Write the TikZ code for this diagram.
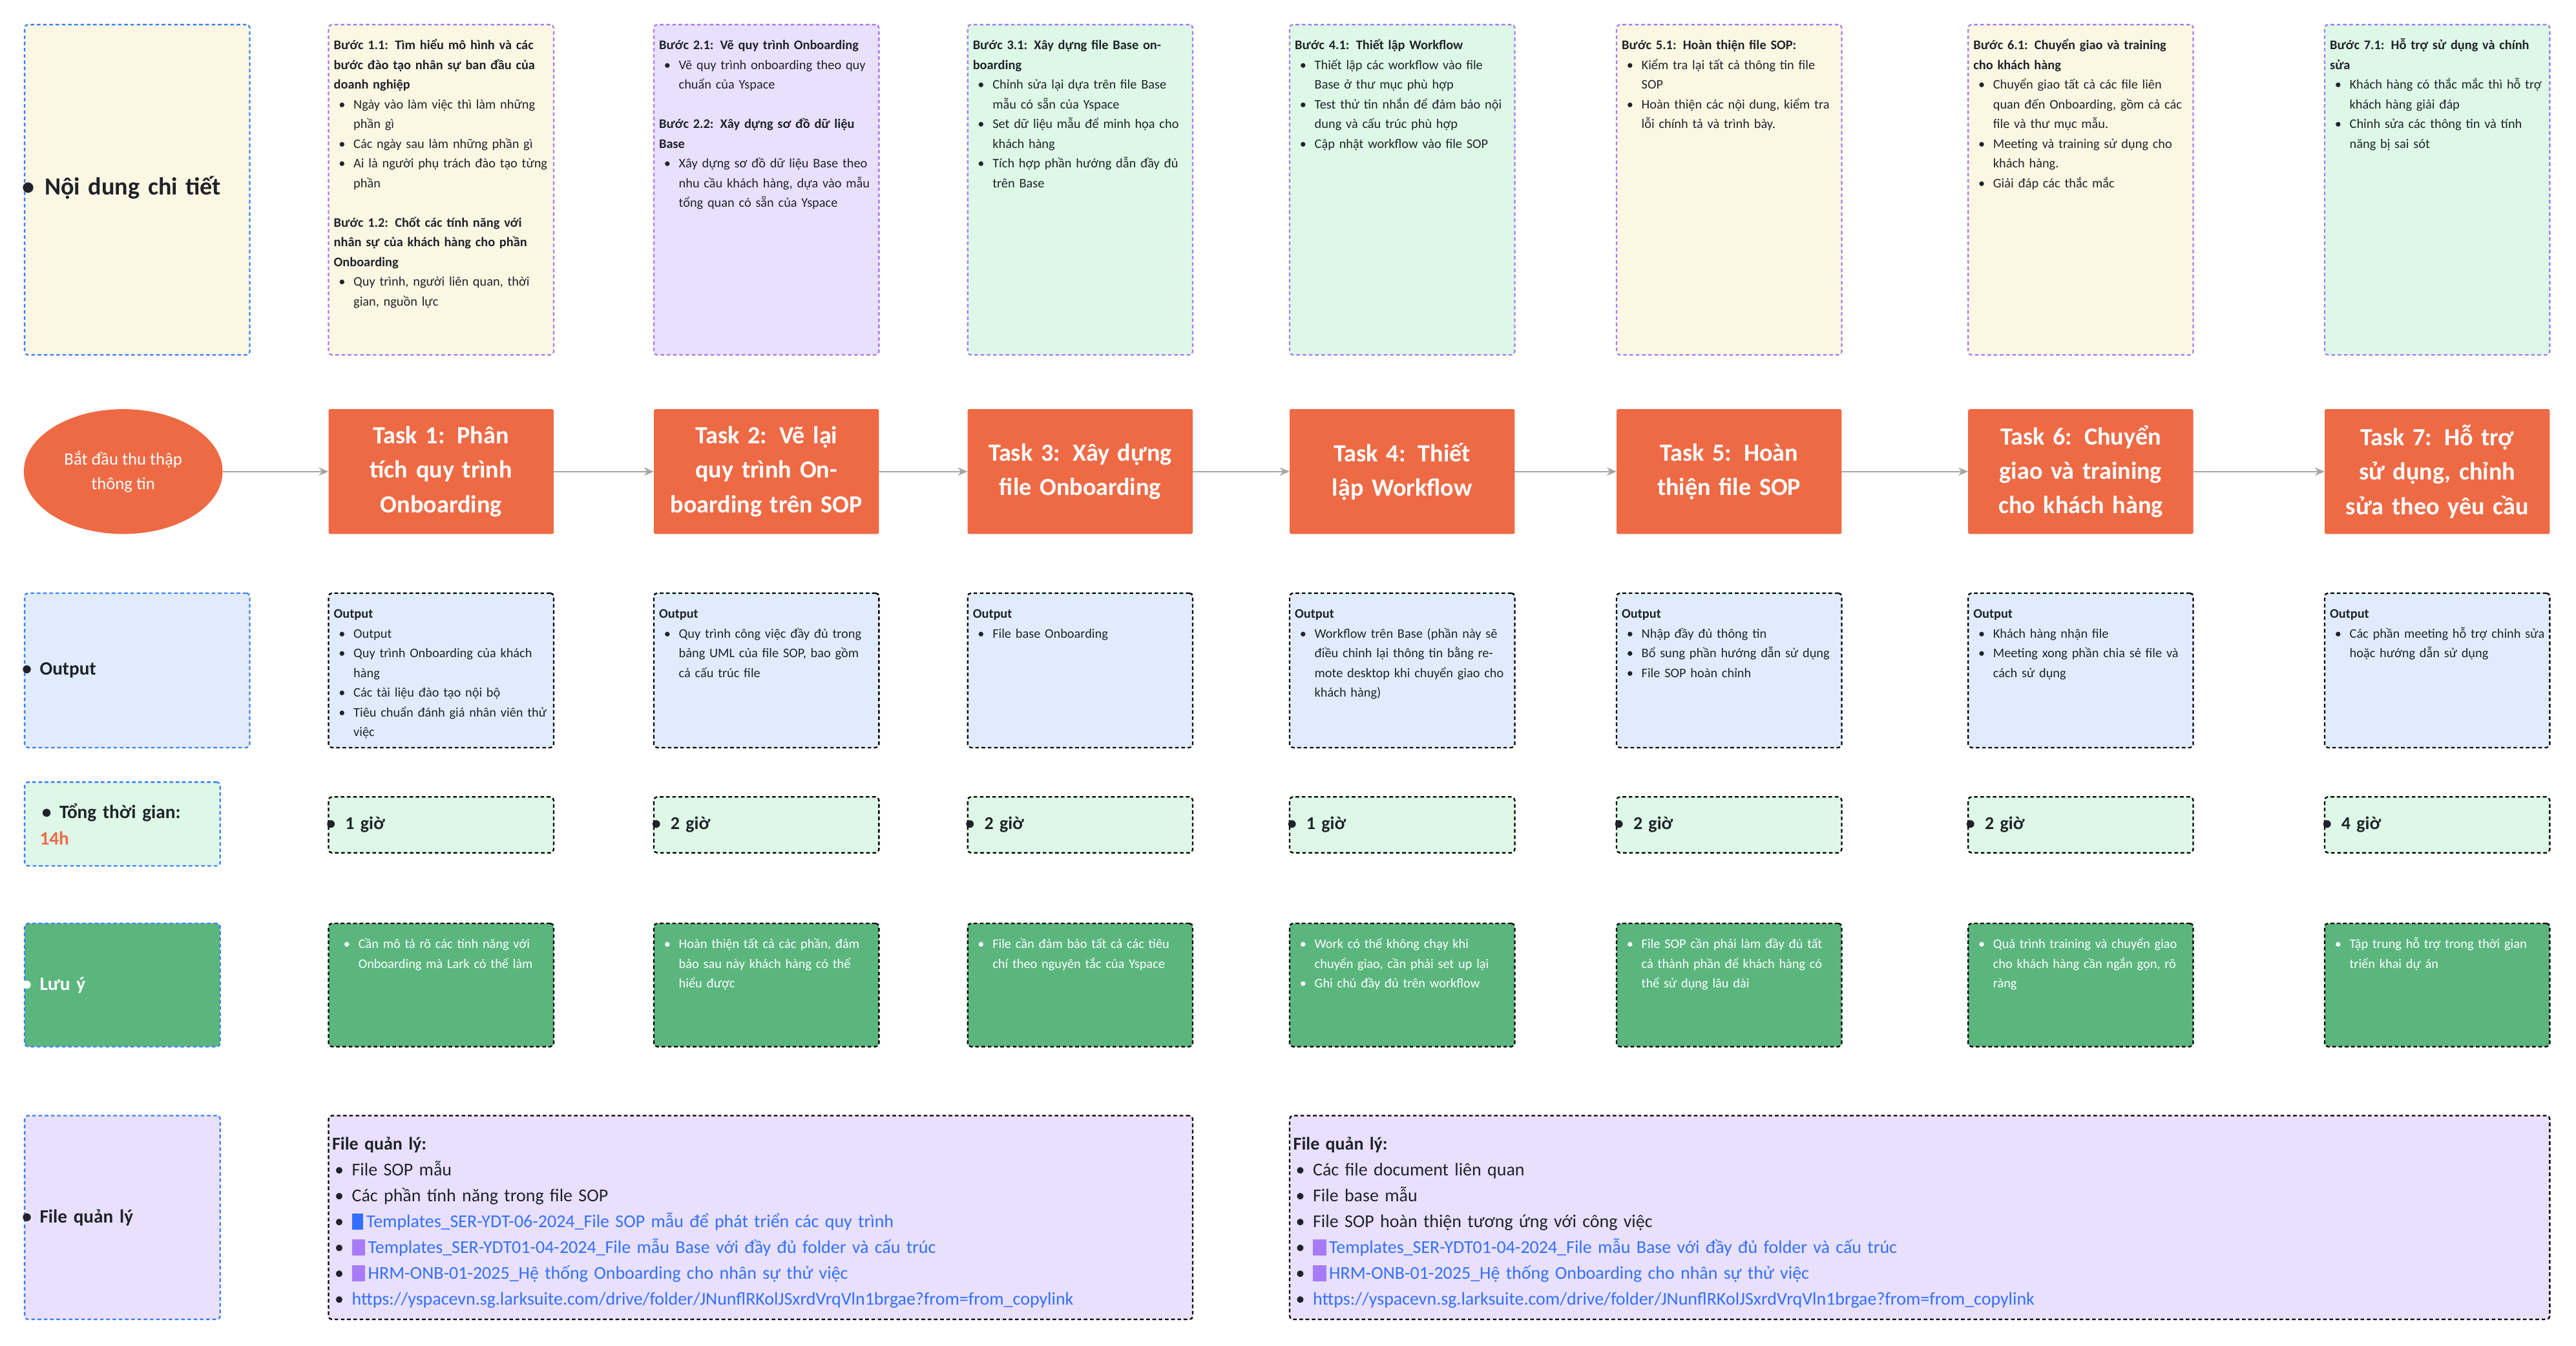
\documentclass[tikz,border=0pt]{standalone}
\usepackage{fontspec}
\setmainfont{Carlito}
\usetikzlibrary{shapes.geometric,arrows.meta}
\definecolor{cyel}{HTML}{FCF7E3}
\definecolor{cpur}{HTML}{E8E0FD}
\definecolor{cmint}{HTML}{DDF8E7}
\definecolor{cblue}{HTML}{E0ECFD}
\definecolor{cgreen}{HTML}{5BB67E}
\definecolor{corange}{HTML}{EE6A45}
\definecolor{bblue}{HTML}{3B82F6}
\definecolor{bpur}{HTML}{A77BF5}
\definecolor{link}{HTML}{3370FF}
\definecolor{ink}{HTML}{1F2329}
\newcommand\bi[1]{\par{\leftskip=12pt\noindent\llap{\textbullet\hspace{5pt}}#1\par}}
\newcommand\hd[1]{\par\noindent\textbf{#1}\par}
\newcommand\picon{\textcolor{bpur}{\rule[-1.5pt]{8pt}{10pt}}\,}
\newcommand\dicon{\textcolor{link}{\rule[-1.5pt]{7pt}{10pt}}\,}
\begin{document}
\begin{tikzpicture}[x=1pt,y=-1pt,
  box/.style={rectangle,inner sep=0pt,outer sep=0pt,rounded corners=2pt,line width=0.9pt,anchor=north west},
  lab/.style={box,draw=bblue,dash pattern=on 2.2pt off 1.6pt},
  top/.style={box,draw=bpur,dash pattern=on 2.2pt off 1.6pt},
  blk/.style={box,draw=black,dash pattern=on 2.2pt off 1.6pt},
  txt/.style={anchor=north west,inner sep=3pt,text width=131pt,align=left,font=\fontsize{8}{12}\selectfont,text=ink},
  big/.style={anchor=west,inner sep=0pt,text width=118pt,align=left,font=\fontsize{11.5}{16}\selectfont\bfseries,text=ink},
  task/.style={box,fill=corange,minimum width=137pt,minimum height=76pt,rounded corners=1pt},
  tasktxt/.style={text=white,font=\fontsize{15}{21}\selectfont\bfseries,align=center,text width=132pt},
  arr/.style={draw=gray!70,line width=0.8pt,-{Stealth[length=6pt,width=5pt]}}]
\useasboundingbox (0,0) rectangle (1568,819);

% ---- column 0 labels
\node[lab,fill=cyel,minimum width=137pt,minimum height=201pt] (l1) at (15,15) {};
\node[big,font=\fontsize{15}{21}\selectfont\bfseries] at (27,115.5) {\hd{}\vspace{-12pt}\leftskip=14pt\noindent\llap{\textbullet\hspace{6pt}}Nội dung chi tiết};
\node[lab,fill=cblue,minimum width=137pt,minimum height=94pt] (l2) at (15,361) {};
\node[big] at (24,408) {\leftskip=12pt\noindent\llap{\textbullet\hspace{5pt}}Output};
\node[lab,fill=cmint,minimum width=119pt,minimum height=51pt] (l3) at (15,476) {};
\node[big] at (24,501.5) {\leftskip=12pt\noindent\llap{\textbullet\hspace{5pt}}Tổng thời gian:\\\textcolor{corange}{14h}};
\node[lab,fill=cgreen,minimum width=119pt,minimum height=75pt] (l4) at (15,562) {};
\node[big,text=white] at (24,599.5) {\leftskip=12pt\noindent\llap{\textbullet\hspace{5pt}}Lưu ý};
\node[lab,fill=cpur,minimum width=119pt,minimum height=124pt] (l5) at (15,679) {};
\node[big] at (24,741) {\leftskip=12pt\noindent\llap{\textbullet\hspace{5pt}}File quản lý};

% ---- top detail boxes
\node[top,fill=cyel,minimum width=137pt,minimum height=201pt] (d1) at (200,15) {};
\node[txt] at (d1.north west) {\hd{Bước 1.1: Tìm hiểu mô hình và các bước đào tạo nhân sự ban đầu của doanh nghiệp}
\bi{Ngày vào làm việc thì làm những phần gì}\bi{Các ngày sau làm những phần gì}\bi{Ai là người phụ trách đào tạo từng phần}\vspace{12pt}
\hd{Bước 1.2: Chốt các tính năng với nhân sự của khách hàng cho phần Onboarding}\bi{Quy trình, người liên quan, thời gian, nguồn lực}};
\node[top,fill=cpur,minimum width=137pt,minimum height=201pt] (d2) at (398,15) {};
\node[txt] at (d2.north west) {\hd{Bước 2.1: Vẽ quy trình Onboarding}\bi{Vẽ quy trình onboarding theo quy chuẩn của Yspace}\vspace{12pt}
\hd{Bước 2.2: Xây dựng sơ đồ dữ liệu Base}\bi{Xây dựng sơ đồ dữ liệu Base theo nhu cầu khách hàng, dựa vào mẫu tổng quan có sẵn của Yspace}};
\node[top,fill=cmint,minimum width=137pt,minimum height=201pt] (d3) at (589,15) {};
\node[txt] at (d3.north west) {\hd{Bước 3.1: Xây dựng file Base onboarding}\bi{Chỉnh sửa lại dựa trên file Base mẫu có sẵn của Yspace}\bi{Set dữ liệu mẫu để minh họa cho khách hàng}\bi{Tích hợp phần hướng dẫn đầy đủ trên Base}};
\node[top,fill=cmint,minimum width=137pt,minimum height=201pt] (d4) at (785,15) {};
\node[txt] at (d4.north west) {\hd{Bước 4.1: Thiết lập Workflow}\bi{Thiết lập các workflow vào file Base ở thư mục phù hợp}\bi{Test thử tin nhắn để đảm bảo nội dung và cấu trúc phù hợp}\bi{Cập nhật workflow vào file SOP}};
\node[top,fill=cyel,minimum width=137pt,minimum height=201pt] (d5) at (984,15) {};
\node[txt] at (d5.north west) {\hd{Bước 5.1: Hoàn thiện file SOP:}\bi{Kiểm tra lại tất cả thông tin file SOP}\bi{Hoàn thiện các nội dung, kiểm tra lỗi chính tả và trình bày.}};
\node[top,fill=cyel,minimum width=137pt,minimum height=201pt] (d6) at (1198,15) {};
\node[txt] at (d6.north west) {\hd{Bước 6.1: Chuyển giao và training cho khách hàng}\bi{Chuyển giao tất cả các file liên quan đến Onboarding, gồm cả các file và thư mục mẫu.}\bi{Meeting và training sử dụng cho khách hàng.}\bi{Giải đáp các thắc mắc}};
\node[top,fill=cmint,minimum width=137pt,minimum height=201pt] (d7) at (1415,15) {};
\node[txt] at (d7.north west) {\hd{Bước 7.1: Hỗ trợ sử dụng và chính sửa}\bi{Khách hàng có thắc mắc thì hỗ trợ khách hàng giải đáp}\bi{Chỉnh sửa các thông tin và tính năng bị sai sót}};

% ---- task row
\node[ellipse,fill=corange,minimum width=121pt,minimum height=76pt,inner sep=0pt,text=white,align=center,font=\fontsize{10.5}{15}\selectfont] (s) at (75,287) {Bắt đầu thu thập\\thông tin};
\node[task] (t1) at (200,249) {};\node[tasktxt] at (t1.center) {Task 1: Phân tích quy trình Onboarding};
\node[task] (t2) at (398,249) {};\node[tasktxt] at (t2.center) {Task 2: Vẽ lại quy trình Onboarding trên SOP};
\node[task] (t3) at (589,249) {};\node[tasktxt] at (t3.center) {Task 3: Xây dựng file Onboarding};
\node[task] (t4) at (785,249) {};\node[tasktxt] at (t4.center) {Task 4: Thiết lập Workflow};
\node[task] (t5) at (984,249) {};\node[tasktxt] at (t5.center) {Task 5: Hoàn thiện file SOP};
\node[task] (t6) at (1198,249) {};\node[tasktxt] at (t6.center) {Task 6: Chuyển giao và training cho khách hàng};
\node[task] (t7) at (1415,249) {};\node[tasktxt] at (t7.center) {Task 7: Hỗ trợ sử dụng, chỉnh sửa theo yêu cầu};
\draw[arr] (s.east) -- (t1.west);
\draw[arr] (t1.east) -- (t2.west);
\draw[arr] (t2.east) -- (t3.west);
\draw[arr] (t3.east) -- (t4.west);
\draw[arr] (t4.east) -- (t5.west);
\draw[arr] (t5.east) -- (t6.west);
\draw[arr] (t6.east) -- (t7.west);

% ---- output row
\node[blk,fill=cblue,minimum width=137pt,minimum height=94pt] (o1) at (200,361) {};
\node[txt] at (o1.north west) {\hd{Output}\bi{Output}\bi{Quy trình Onboarding của khách hàng}\bi{Các tài liệu đào tạo nội bộ}\bi{Tiêu chuẩn đánh giá nhân viên thử việc}};
\node[blk,fill=cblue,minimum width=137pt,minimum height=94pt] (o2) at (398,361) {};
\node[txt] at (o2.north west) {\hd{Output}\bi{Quy trình công việc đầy đủ trong bảng UML của file SOP, bao gồm cả cấu trúc file}};
\node[blk,fill=cblue,minimum width=137pt,minimum height=94pt] (o3) at (589,361) {};
\node[txt] at (o3.north west) {\hd{Output}\bi{File base Onboarding}};
\node[blk,fill=cblue,minimum width=137pt,minimum height=94pt] (o4) at (785,361) {};
\node[txt] at (o4.north west) {\hd{Output}\bi{Workflow trên Base (phần này sẽ điều chỉnh lại thông tin bằng remote desktop khi chuyển giao cho khách hàng)}};
\node[blk,fill=cblue,minimum width=137pt,minimum height=94pt] (o5) at (984,361) {};
\node[txt] at (o5.north west) {\hd{Output}\bi{Nhập đầy đủ thông tin}\bi{Bổ sung phần hướng dẫn sử dụng}\bi{File SOP hoàn chỉnh}};
\node[blk,fill=cblue,minimum width=137pt,minimum height=94pt] (o6) at (1198,361) {};
\node[txt] at (o6.north west) {\hd{Output}\bi{Khách hàng nhận file}\bi{Meeting xong phần chia sẻ file và cách sử dụng}};
\node[blk,fill=cblue,minimum width=137pt,minimum height=94pt] (o7) at (1415,361) {};
\node[txt] at (o7.north west) {\hd{Output}\bi{Các phần meeting hỗ trợ chỉnh sửa hoặc hướng dẫn sử dụng}};

% ---- time row
\foreach \n/\x/\h in {1/200/1,2/398/2,3/589/2,4/785/1,5/984/2,6/1198/2,7/1415/4}{
  \node[blk,fill=cmint,minimum width=137pt,minimum height=34pt] (g\n) at (\x,485) {};
  \node[big,font=\fontsize{11}{15}\selectfont\bfseries] at ([xshift=10pt]g\n.west) {\leftskip=12pt\noindent\llap{\textbullet\hspace{6pt}}\h{} giờ};
}

% ---- note row
\node[blk,fill=cgreen,minimum width=137pt,minimum height=75pt] (n1) at (200,562) {};
\node[txt,text=white] at ([xshift=3pt]n1.north west) {\bi{Cần mô tả rõ các tính năng với Onboarding mà Lark có thể làm}};
\node[blk,fill=cgreen,minimum width=137pt,minimum height=75pt] (n2) at (398,562) {};
\node[txt,text=white] at (n2.north west) {\bi{Hoàn thiện tất cả các phần, đảm bảo sau này khách hàng có thể hiểu được}};
\node[blk,fill=cgreen,minimum width=137pt,minimum height=75pt] (n3) at (589,562) {};
\node[txt,text=white] at (n3.north west) {\bi{File cần đảm bảo tất cả các tiêu chí theo nguyên tắc của Yspace}};
\node[blk,fill=cgreen,minimum width=137pt,minimum height=75pt] (n4) at (785,562) {};
\node[txt,text=white] at (n4.north west) {\bi{Work có thể không chạy khi chuyển giao, cần phải set up lại}\bi{Ghi chú đầy đủ trên workflow}};
\node[blk,fill=cgreen,minimum width=137pt,minimum height=75pt] (n5) at (984,562) {};
\node[txt,text=white] at (n5.north west) {\bi{File SOP cần phải làm đầy đủ tất cả thành phần để khách hàng có thể sử dụng lâu dài}};
\node[blk,fill=cgreen,minimum width=137pt,minimum height=75pt] (n6) at (1198,562) {};
\node[txt,text=white] at (n6.north west) {\bi{Quá trình training và chuyển giao cho khách hàng cần ngắn gọn, rõ ràng}};
\node[blk,fill=cgreen,minimum width=137pt,minimum height=75pt] (n7) at (1415,562) {};
\node[txt,text=white] at (n7.north west) {\bi{Tập trung hỗ trợ trong thời gian triển khai dự án}};

% ---- file row
\node[blk,fill=cpur,minimum width=526pt,minimum height=124pt] (f1) at (200,679) {};
\node[txt,text width=524pt,font=\fontsize{11}{15.7}\selectfont,inner sep=2pt,yshift=-3pt] at (f1.north west) {\hd{File quản lý:}
\bi{File SOP mẫu}\bi{Các phần tính năng trong file SOP}
\bi{\color{link}\dicon Templates\_SER-YDT-06-2024\_File SOP mẫu để phát triển các quy trình}
\bi{\color{link}\picon Templates\_SER-YDT01-04-2024\_File mẫu Base với đầy đủ folder và cấu trúc}
\bi{\color{link}\picon HRM-ONB-01-2025\_Hệ thống Onboarding cho nhân sự thử việc}
\bi{\color{link}https://yspacevn.sg.larksuite.com/drive/folder/JNunflRKolJSxrdVrqVln1brgae?from=from\_copylink}};
\node[blk,fill=cpur,minimum width=767pt,minimum height=124pt] (f2) at (785,679) {};
\node[txt,text width=765pt,font=\fontsize{11}{15.7}\selectfont,inner sep=2pt,yshift=-3pt] at (f2.north west) {\hd{File quản lý:}
\bi{Các file document liên quan}\bi{File base mẫu}\bi{File SOP hoàn thiện tương ứng với công việc}
\bi{\color{link}\picon Templates\_SER-YDT01-04-2024\_File mẫu Base với đầy đủ folder và cấu trúc}
\bi{\color{link}\picon HRM-ONB-01-2025\_Hệ thống Onboarding cho nhân sự thử việc}
\bi{\color{link}https://yspacevn.sg.larksuite.com/drive/folder/JNunflRKolJSxrdVrqVln1brgae?from=from\_copylink}};
\end{tikzpicture}
\end{document}
